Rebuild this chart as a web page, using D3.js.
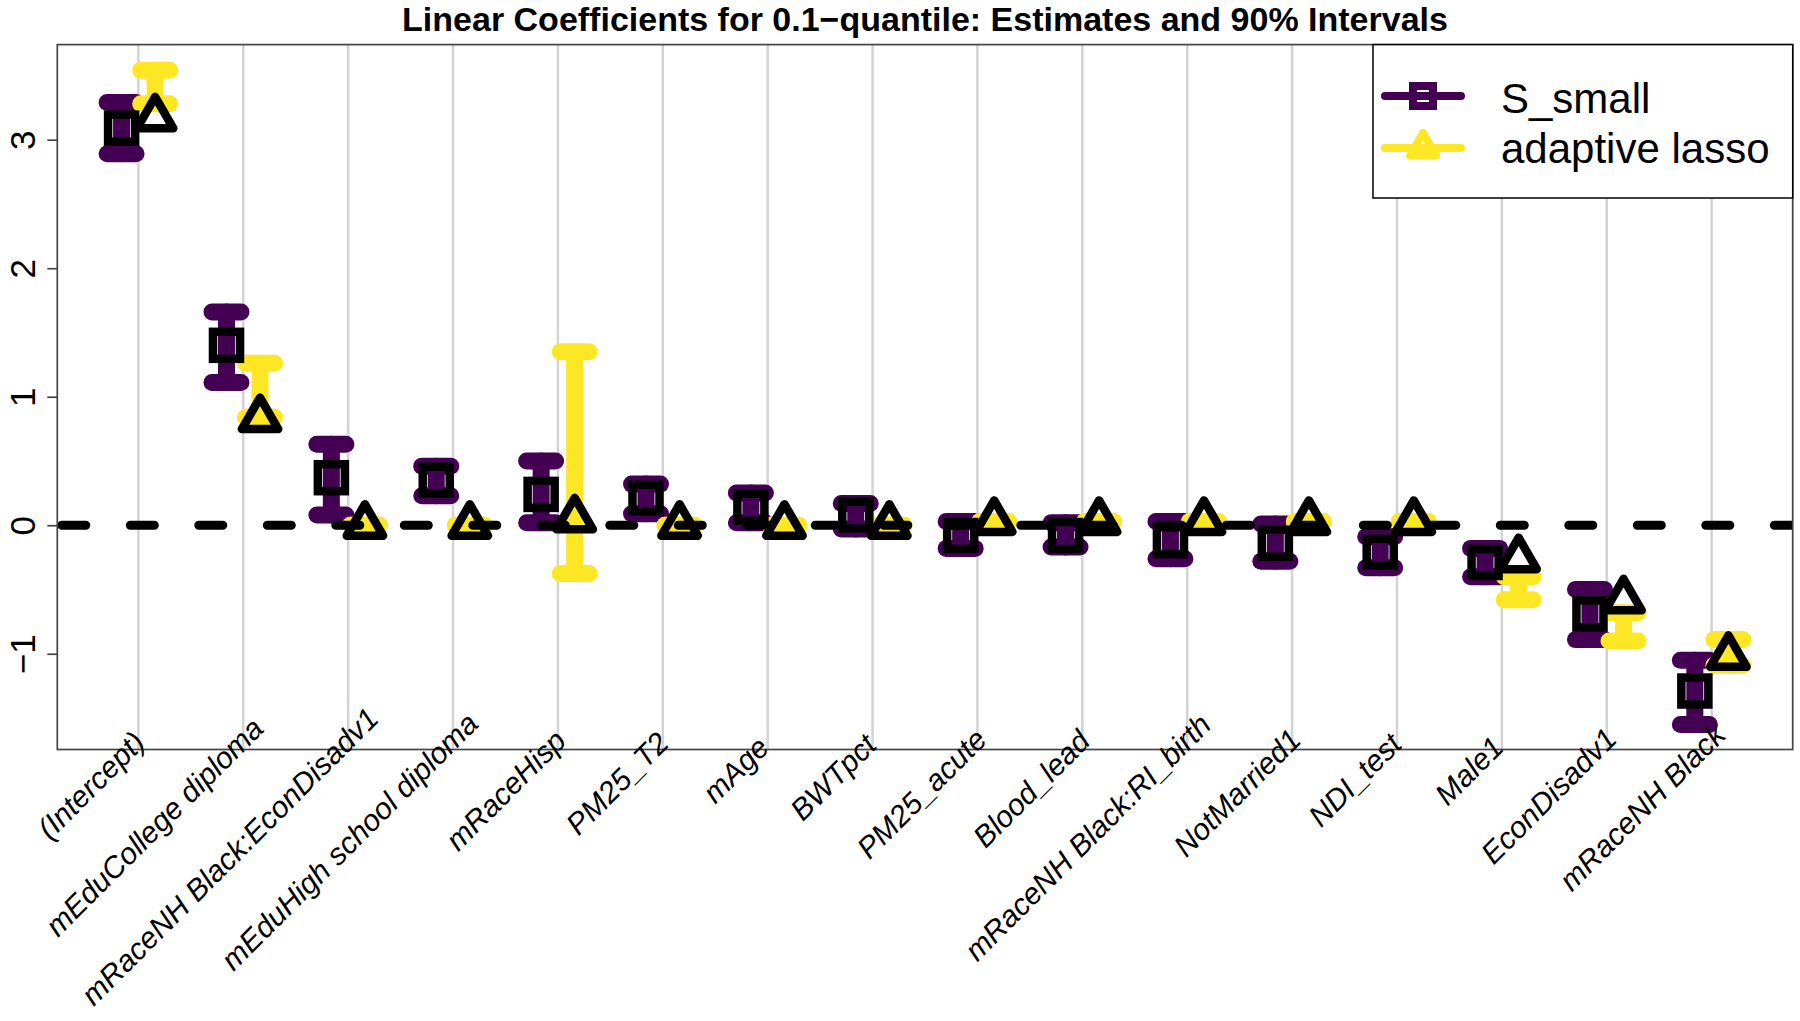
<!DOCTYPE html>
<html>
<head>
<meta charset="utf-8">
<script src="https://cdn.jsdelivr.net/npm/d3@7"></script>
<style>
  html, body { margin: 0; padding: 0; background: #ffffff; }
  svg { display: block; }
  text { font-family: "Liberation Sans", Arial, Helvetica, sans-serif; }
</style>
</head>
<body>
<svg id="chart" width="1800" height="1021"></svg>
<script>
// ---------------- data ----------------
const categories = [
  "(Intercept)", "mEduCollege diploma", "mRaceNH Black:EconDisadv1",
  "mEduHigh school diploma", "mRaceHisp", "PM25_T2", "mAge", "BWTpct",
  "PM25_acute", "Blood_lead", "mRaceNH Black:RI_birth", "NotMarried1",
  "NDI_test", "Male1", "EconDisadv1", "mRaceNH Black"
];
const seriesNames = ["S_small", "adaptive lasso"];

const sSmallEst   = [3.09, 1.40, 0.37, 0.35, 0.24, 0.21, 0.14, 0.08, -0.08, -0.08, -0.12, -0.14, -0.21, -0.29, -0.69, -1.29];
const sSmallLower = [2.89, 1.11, 0.08, 0.23, 0.02, 0.09, 0.02, -0.03, -0.18, -0.17, -0.26, -0.28, -0.33, -0.40, -0.89, -1.55];
const sSmallUpper = [3.29, 1.66, 0.63, 0.46, 0.50, 0.32, 0.25, 0.17, 0.03, 0.02, 0.03, 0.01, -0.09, -0.18, -0.50, -1.05];

const lassoEst    = [3.17, 0.83, 0.00, 0.00, 0.05, 0.00, 0.00, 0.00, 0.03, 0.03, 0.03, 0.03, 0.03, -0.26, -0.58, -1.02];
const lassoLower  = [3.28, 0.84, 0.00, 0.00, -0.375, 0.00, 0.00, 0.00, 0.03, 0.03, 0.03, 0.03, 0.03, -0.58, -0.90, -1.09];
const lassoUpper  = [3.54, 1.26, 0.00, 0.00, 1.35, 0.00, 0.00, 0.00, 0.03, 0.03, 0.03, 0.03, 0.03, -0.40, -0.68, -0.89];

const yTicks = [-1, 0, 1, 2, 3];
const titleText = "Linear Coefficients for 0.1\u2212quantile: Estimates and 90% Intervals";

// ---------------- layout ----------------
const purple = "#440154", yellow = "#FDE725";
const plotL = 57.3, plotR = 1792.7, plotT = 44.6, plotB = 749.5;
const offset = 0.16;

const svg = d3.select("#chart");
const x = d3.scaleLinear().domain([0.227, 16.773]).range([plotL, plotR]);
const y = d3.scaleLinear().domain([-1.745, 3.74]).range([plotB, plotT]);

const idx = d3.range(categories.length);
const sData = idx.map(i => ({i, est: sSmallEst[i], lo: sSmallLower[i], hi: sSmallUpper[i]}));
const lData = idx.map(i => ({i, est: lassoEst[i], lo: lassoLower[i], hi: lassoUpper[i]}));

svg.append("defs").append("clipPath").attr("id", "plotclip")
  .append("rect").attr("x", plotL).attr("y", plotT)
  .attr("width", plotR - plotL).attr("height", plotB - plotT);

// grid lines
svg.append("g").selectAll("line").data(idx).join("line")
  .attr("x1", i => x(i + 1)).attr("x2", i => x(i + 1))
  .attr("y1", plotT).attr("y2", plotB)
  .attr("stroke", "#d3d3d3").attr("stroke-width", 2.5);

// error bars
const capHalf = 14.5, barW = 17;
function drawBars(data, color, dx) {
  const g = svg.append("g").attr("clip-path", "url(#plotclip)")
    .attr("stroke", color).attr("stroke-width", barW).attr("stroke-linecap", "round");
  g.selectAll("line.v").data(data).join("line").attr("class", "v")
    .attr("x1", d => x(d.i + 1 + dx)).attr("x2", d => x(d.i + 1 + dx))
    .attr("y1", d => y(d.lo)).attr("y2", d => y(d.hi));
  g.selectAll("line.lo").data(data).join("line").attr("class", "lo")
    .attr("x1", d => x(d.i + 1 + dx) - capHalf).attr("x2", d => x(d.i + 1 + dx) + capHalf)
    .attr("y1", d => y(d.lo)).attr("y2", d => y(d.lo));
  g.selectAll("line.hi").data(data).join("line").attr("class", "hi")
    .attr("x1", d => x(d.i + 1 + dx) - capHalf).attr("x2", d => x(d.i + 1 + dx) + capHalf)
    .attr("y1", d => y(d.hi)).attr("y2", d => y(d.hi));
}
drawBars(sData, purple, -offset);
drawBars(lData, yellow, offset);

// dashed zero line
svg.append("line").attr("clip-path", "url(#plotclip)")
  .attr("x1", plotL + 4.5).attr("x2", plotR + 40)
  .attr("y1", y(0)).attr("y2", y(0))
  .attr("stroke", "#000").attr("stroke-width", 9)
  .attr("stroke-linecap", "round").attr("stroke-dasharray", "24,44.5");

// markers
const sq = 27, triR = 21, mStroke = 8.5;
function triPath(r) {
  const xc = r * 0.866;
  return `M0,${-r}L${xc},${r / 2}L${-xc},${r / 2}Z`;
}
svg.append("g").selectAll("rect").data(sData).join("rect")
  .attr("x", d => x(d.i + 1 - offset) - sq / 2).attr("y", d => y(d.est) - sq / 2)
  .attr("width", sq).attr("height", sq)
  .attr("fill", "none").attr("stroke", "#000").attr("stroke-width", mStroke)
  .attr("stroke-linejoin", "miter");
svg.append("g").selectAll("path").data(lData).join("path")
  .attr("transform", d => `translate(${x(d.i + 1 + offset)},${y(d.est)})`)
  .attr("d", triPath(triR))
  .attr("fill", "none").attr("stroke", "#000").attr("stroke-width", mStroke)
  .attr("stroke-linejoin", "round");

// box
svg.append("rect").attr("x", plotL).attr("y", plotT)
  .attr("width", plotR - plotL).attr("height", plotB - plotT)
  .attr("fill", "none").attr("stroke", "#444").attr("stroke-width", 1.7);

// y axis
const yAxis = svg.append("g").attr("transform", `translate(${plotL},0)`)
  .call(d3.axisLeft(y).tickValues(yTicks).tickSize(10).tickSizeOuter(0)
    .tickFormat(v => v < 0 ? "\u2212" + Math.abs(v) : String(v)));
yAxis.select(".domain").remove();
yAxis.selectAll(".tick line").attr("stroke", "#444").attr("stroke-width", 1.7);
yAxis.selectAll(".tick text")
  .attr("x", null).attr("dy", null)
  .attr("transform", `translate(${34.5 - plotL},0) rotate(-90)`)
  .attr("text-anchor", "middle")
  .attr("font-size", 35).attr("fill", "#000")
  .style("font-family", "'Liberation Sans', Arial, sans-serif");

// x axis labels (rotated 45 degrees, baseline passing near the gridline foot)
const xAxis = svg.append("g").attr("transform", `translate(0,${plotB})`)
  .call(d3.axisBottom(x).tickValues(idx.map(i => i + 1)).tickSize(0)
    .tickFormat(v => categories[v - 1]));
xAxis.select(".domain").remove();
xAxis.selectAll(".tick text")
  .attr("y", null).attr("dy", null)
  .attr("text-anchor", "start")
  .attr("font-size", 30).attr("font-style", "italic").attr("fill", "#000")
  .style("font-family", "'Liberation Sans', Arial, sans-serif")
  .each(function () {
    const L = this.getComputedTextLength();
    const aRel = -760.7 - 1.237 * L;   // along-axis start (x - y)
    const pRel = 752;                   // baseline (x + y)
    const sx = (pRel + aRel) / 2;
    const sy = (pRel - aRel) / 2 - plotB;
    d3.select(this).attr("transform", `translate(${sx},${sy}) rotate(-45)`);
  });

// title
svg.append("text").attr("x", (plotL + plotR) / 2).attr("y", 31)
  .attr("text-anchor", "middle").attr("font-size", 34).attr("font-weight", "bold")
  .text(titleText);

// legend
const lg = svg.append("g");
lg.append("rect").attr("x", 1373).attr("y", plotT).attr("width", plotR - 1373).attr("height", 198 - plotT)
  .attr("fill", "#fff").attr("stroke", "#000").attr("stroke-width", 1.5);
const legRows = [
  {name: seriesNames[0], color: purple, shape: "square", ly: 96, ty: 112.5},
  {name: seriesNames[1], color: yellow, shape: "triangle", ly: 148, ty: 162.5}
];
legRows.forEach(r => {
  lg.append("line").attr("x1", 1385).attr("x2", 1461).attr("y1", r.ly).attr("y2", r.ly)
    .attr("stroke", r.color).attr("stroke-width", 8).attr("stroke-linecap", "round");
  if (r.shape === "square") {
    lg.append("rect").attr("x", 1423 - 10).attr("y", r.ly - 10).attr("width", 20).attr("height", 20)
      .attr("fill", "none").attr("stroke", r.color).attr("stroke-width", 8);
  } else {
    lg.append("path").attr("transform", `translate(1423,${r.ly})`).attr("d", triPath(15))
      .attr("fill", "none").attr("stroke", r.color).attr("stroke-width", 8).attr("stroke-linejoin", "round");
  }
  lg.append("text").attr("x", 1501).attr("y", r.ty).attr("font-size", 42).attr("fill", "#000").text(r.name);
});
</script>
</body>
</html>
